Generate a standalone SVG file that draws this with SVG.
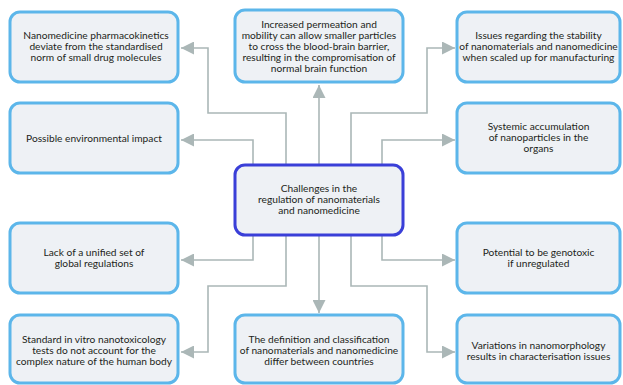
<svg xmlns="http://www.w3.org/2000/svg" width="623" height="385" viewBox="0 0 623 385">
<style>
.bg{fill:#ffffff}
.box rect{fill:#eef1f5;stroke:#5cb6ea;stroke-width:3}
.center rect{fill:#eef1f5;stroke:#3a3fd8;stroke-width:3}
text{font-family:Lato,"Open Sans","Liberation Sans",sans-serif;font-size:10.2px;fill:#231f20;text-anchor:middle}
.conn path{fill:none;stroke:#abb7b7;stroke-width:1.6}
</style>
<defs>
<marker id="ah" markerUnits="userSpaceOnUse" markerWidth="14" markerHeight="13" refX="13" refY="6.5" orient="auto">
<path d="M0,0 L13,6.5 L0,13 z" fill="#abb7b7"/>
</marker>
</defs>
<rect class="bg" x="0" y="0" width="623" height="385"/>
<g class="conn">
<path d="M286,165 V113 H208 V48 H181" marker-end="url(#ah)"/>
<path d="M253,165 V140 H181" marker-end="url(#ah)"/>
<path d="M319,165 V85" marker-end="url(#ah)"/>
<path d="M351,165 V113 H427 V48 H455" marker-end="url(#ah)"/>
<path d="M382,165 V140 H455" marker-end="url(#ah)"/>
<path d="M253,235 V260 H181" marker-end="url(#ah)"/>
<path d="M286,235 V286 H208 V352 H181" marker-end="url(#ah)"/>
<path d="M319,235 V313" marker-end="url(#ah)"/>
<path d="M382,235 V260 H455" marker-end="url(#ah)"/>
<path d="M351,235 V286 H427 V352 H455" marker-end="url(#ah)"/>
</g>
<g id="n-pharmacokinetics" class="box">
<rect x="10" y="12" width="168" height="70" rx="10"/>
<text x="96" y="39">Nanomedicine pharmacokinetics</text>
<text x="96" y="50">deviate from the standardised</text>
<text x="96" y="61">norm of small drug molecules</text>
</g>
<g id="n-permeation" class="box">
<rect x="235" y="10" width="168" height="72" rx="10"/>
<text x="319" y="27.5">Increased permeation and</text>
<text x="319" y="38.5">mobility can allow smaller particles</text>
<text x="319" y="49.5">to cross the blood-brain barrier,</text>
<text x="319" y="60.5">resulting in the compromisation of</text>
<text x="319" y="71.5">normal brain function</text>
</g>
<g id="n-stability" class="box">
<rect x="457" y="12" width="163" height="70" rx="10"/>
<text x="538.5" y="39">Issues regarding the stability</text>
<text x="538.5" y="50">of nanomaterials and nanomedicine</text>
<text x="538.5" y="61">when scaled up for manufacturing</text>
</g>
<g id="n-environment" class="box">
<rect x="10" y="103" width="168" height="70" rx="10"/>
<text x="94" y="141.5">Possible environmental impact</text>
</g>
<g id="n-accumulation" class="box">
<rect x="457" y="103" width="163" height="70" rx="10"/>
<text x="538.5" y="130">Systemic accumulation</text>
<text x="538.5" y="141">of nanoparticles in the</text>
<text x="538.5" y="152">organs</text>
</g>
<g id="n-center" class="center">
<rect x="235" y="165" width="168" height="70" rx="10"/>
<text x="319" y="192">Challenges in the</text>
<text x="319" y="203">regulation of nanomaterials</text>
<text x="319" y="214">and nanomedicine</text>
</g>
<g id="n-unified" class="box">
<rect x="10" y="223" width="168" height="70" rx="10"/>
<text x="94" y="256">Lack of a unified set of</text>
<text x="94" y="267">global regulations</text>
</g>
<g id="n-genotoxic" class="box">
<rect x="457" y="223" width="163" height="70" rx="10"/>
<text x="538.5" y="256">Potential to be genotoxic</text>
<text x="538.5" y="267">if unregulated</text>
</g>
<g id="n-invitro" class="box">
<rect x="10" y="315" width="168" height="68" rx="10"/>
<text x="94" y="343">Standard in vitro nanotoxicology</text>
<text x="94" y="354">tests do not account for the</text>
<text x="94" y="365">complex nature of the human body</text>
</g>
<g id="n-definition" class="box">
<rect x="235" y="315" width="168" height="68" rx="10"/>
<text x="319" y="343">The definition and classification</text>
<text x="319" y="354">of nanomaterials and nanomedicine</text>
<text x="319" y="365">differ between countries</text>
</g>
<g id="n-nanomorphology" class="box">
<rect x="457" y="315" width="163" height="68" rx="10"/>
<text x="538.5" y="349">Variations in nanomorphology</text>
<text x="538.5" y="360">results in characterisation issues</text>
</g>
</svg>
